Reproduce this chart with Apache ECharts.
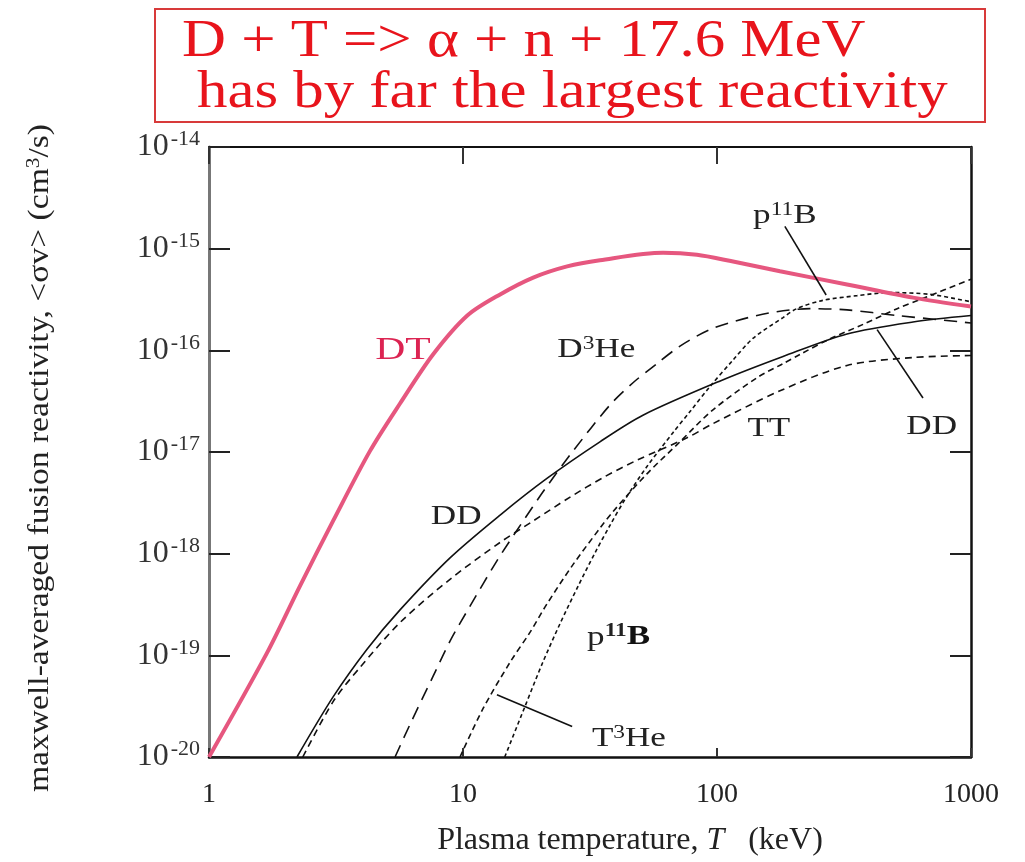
<!DOCTYPE html>
<html>
<head>
<meta charset="utf-8">
<title>Fusion reactivity</title>
<script src="https://cdn.jsdelivr.net/npm/echarts@6/dist/echarts.min.js"></script>
<style>
  html, body { margin: 0; padding: 0; background: #fff; }
  #chart { width: 1025px; height: 862px; }
</style>
</head>
<body>
<div id="chart"></div>
<script>
// plasma temperature (keV) and <sigma v> (cm^3/s)
const dtT = [1, 1.69, 2.28, 3.08, 4.3, 5.65, 7.62, 10.4, 14, 18.9, 25.7, 34.6, 61.3, 83.4, 112, 177, 325, 591, 1000];
const dtV = [1.0e-20, 1.05e-19, 4.8e-19, 2.1e-18, 1.02e-17, 3.0e-17, 9.1e-17, 2.2e-16, 3.55e-16, 5.2e-16, 6.7e-16, 7.7e-16, 9.1e-16, 8.7e-16, 7.6e-16, 6.0e-16, 4.45e-16, 3.3e-16, 2.7e-16];

const ddT = [2.22, 3.08, 4.19, 5.65, 8.89, 14, 21.4, 34.6, 51.1, 103, 182, 325, 591, 1000];
const ddV = [1.0e-20, 3.9e-20, 1.15e-19, 2.8e-19, 9.1e-19, 2.4e-18, 5.5e-18, 1.26e-17, 2.3e-17, 5.0e-17, 8.7e-17, 1.45e-16, 1.9e-16, 2.2e-16];

const ttT = [2.34, 3.08, 3.93, 5.65, 8.89, 14, 18.9, 26.4, 35.6, 48.4, 76.2, 96.4, 177, 325, 591, 1000];
const ttV = [1.0e-20, 3.5e-20, 7.6e-20, 2.1e-19, 5.6e-19, 1.29e-18, 2.1e-18, 3.6e-18, 5.6e-18, 8.3e-18, 1.38e-17, 1.9e-17, 4.0e-17, 7.1e-17, 8.5e-17, 8.9e-17];

const dhe3T = [5.4, 6.19, 7.62, 8.89, 10.7, 13.6, 16.8, 21, 27.1, 37.9, 46.7, 58, 71.5, 93.8, 127, 172, 232, 325, 512, 1000];
const dhe3V = [1.0e-20, 2.1e-20, 6.2e-20, 1.38e-19, 3.1e-19, 8.5e-19, 1.9e-18, 4.3e-18, 1.02e-17, 2.9e-17, 4.8e-17, 7.4e-17, 1.1e-16, 1.6e-16, 2.04e-16, 2.4e-16, 2.57e-16, 2.5e-16, 2.2e-16, 1.86e-16];

const the3T = [9.73, 12, 15.3, 18.4, 21.4, 27.1, 34.6, 39, 53, 71.5, 96.4, 144, 182, 212, 279, 376, 512, 647, 1000];
const the3V = [1.0e-20, 3.0e-20, 8.5e-20, 1.7e-19, 3.2e-19, 7.8e-19, 1.78e-18, 2.6e-18, 6.1e-18, 1.26e-17, 2.6e-17, 5.4e-17, 7.4e-17, 9.1e-17, 1.3e-16, 1.8e-16, 2.57e-16, 3.25e-16, 5.0e-16];

const pbT = [14.6, 17.5, 20.6, 24.1, 28.4, 33.1, 37.9, 43.4, 53, 67.1, 78.3, 93.8, 116, 139, 182, 206, 261, 356, 480, 690, 1000];
const pbV = [1.0e-20, 3.1e-20, 8.5e-20, 2.05e-19, 4.8e-19, 1.02e-18, 1.9e-18, 3.4e-18, 7.2e-18, 1.55e-17, 2.5e-17, 4.4e-17, 8.1e-17, 1.32e-16, 2.1e-16, 2.57e-16, 3.1e-16, 3.45e-16, 3.7e-16, 3.55e-16, 3.0e-16];

// curve labels (position in data units)
const labelText = ['DT', 'D3He', 'TT', 'DDr', 'DDl', 'pBtop', 'pBbot', 'T3He'];
const labelT = [5.8, 33.5, 160, 700, 9.4, 185, 41, 45];
const labelV = [1.0e-16, 1.0e-16, 1.7e-17, 1.75e-17, 2.3e-18, 2.1e-15, 1.5e-19, 1.5e-20];

const xTicks = [1, 10, 100, 1000];

const serif = '"Liberation Serif", "Times New Roman", serif';
const pink = '#e6577f';
const red = '#e8141c';
const ink = '#222';

const pairs = (t, v) => t.map((x, i) => [x, v[i]]);

const sup = (size, bold) => ({
  fontFamily: serif, fontSize: size, fill: ink, fontWeight: bold ? 'bold' : 'normal',
  verticalAlign: 'bottom', padding: [0, 0, 12, 0]
});

const richLabel = {
  b: { fontFamily: serif, fontSize: 27, fill: ink },
  s: sup(18, false),
  bb: { fontFamily: serif, fontSize: 27, fill: '#111', fontWeight: 'bold' },
  sb: sup(18, true),
  dt: { fontFamily: serif, fontSize: 32, fill: '#dc2452' }
};

const labelFormat = {
  DT: '{dt|DT}',
  D3He: '{b|D}{s|3}{b|He}',
  TT: '{b|TT}',
  DDr: '{b|DD}',
  DDl: '{b|DD}',
  pBtop: '{b|p}{s|11}{b|B}',
  pBbot: '{b|p}{sb|11}{bb|B}',
  T3He: '{b|T}{s|3}{b|He}'
};

const chart = echarts.init(document.getElementById('chart'));

const thin = (type) => ({ color: '#111', width: 1.6, type: type });

const curve = (name, t, v, lineStyle) => ({
  name: name, type: 'line', data: pairs(t, v), smooth: 0.3,
  showSymbol: false, lineStyle: lineStyle
});

const option = {
  backgroundColor: '#fff',
  animation: false,
  grid: { left: 209, right: 54, top: 147, bottom: 94 },
  xAxis: [
    {
      type: 'log', logBase: 10, min: 1, max: 1000,
      name: '{n|Plasma temperature, }{i|T}{n|   (keV)}',
      nameLocation: 'middle', nameGap: 68,
      nameTextStyle: {
        padding: [0, 0, 0, 80],
        rich: {
          n: { fontFamily: serif, fontSize: 32, color: ink },
          i: { fontFamily: serif, fontSize: 32, color: ink, fontStyle: 'italic' }
        }
      },
      axisLine: { lineStyle: { color: '#111', width: 2.5 } },
      axisTick: { inside: true, length: 9, lineStyle: { color: '#333', width: 2 } },
      splitLine: { show: false },
      axisLabel: {
        margin: 24, fontFamily: serif, fontSize: 28, color: ink,
        formatter: (v) => xTicks.includes(v) ? String(v) : ''
      }
    },
    {
      type: 'log', logBase: 10, min: 1, max: 1000, position: 'top',
      axisLine: { lineStyle: { color: '#111', width: 2 } },
      axisTick: { inside: true, length: 17, lineStyle: { color: '#333', width: 2 } },
      axisLabel: { show: false },
      splitLine: { show: false }
    }
  ],
  yAxis: [
    {
      type: 'log', logBase: 10, min: 1e-20, max: 1e-14,
      axisLine: { lineStyle: { color: '#777', width: 3 } },
      axisTick: { inside: true, length: 21, lineStyle: { color: ink, width: 2 } },
      splitLine: { show: false },
      axisLabel: {
        margin: 9,
        formatter: (v) => '{b|10}{s|' + Math.round(Math.log10(v)) + '}',
        rich: {
          b: { fontFamily: serif, fontSize: 32, color: '#333' },
          s: { fontFamily: serif, fontSize: 22, color: '#333', verticalAlign: 'bottom', padding: [0, 0, 15, 2] }
        }
      }
    },
    {
      type: 'log', logBase: 10, min: 1e-20, max: 1e-14, position: 'right',
      axisLine: { lineStyle: { color: '#111', width: 2.5 } },
      axisTick: { inside: true, length: 21, lineStyle: { color: ink, width: 2 } },
      axisLabel: { show: false },
      splitLine: { show: false }
    }
  ],
  series: [
    curve('DD', ddT, ddV, thin('solid')),
    curve('TT', ttT, ttV, thin([7, 5])),
    curve('D3He', dhe3T, dhe3V, thin([13, 8])),
    curve('T3He', the3T, the3V, thin([6, 4])),
    curve('p11B', pbT, pbV, thin([4, 3])),
    curve('DT', dtT, dtV, { color: pink, width: 4 }),
    {
      // leader lines from the curve labels
      name: 'leaders', type: 'line', data: [], silent: true,
      markLine: {
        silent: true, symbol: 'none',
        label: { show: false },
        lineStyle: { color: '#111', width: 1.6, type: 'solid' },
        data: [
          [{ coord: [185, 1.66e-15] }, { coord: [269, 3.5e-16] }],
          [{ coord: [427, 1.6e-16] }, { coord: [647, 3.4e-17] }],
          [{ coord: [13.6, 4.1e-20] }, { coord: [26.9, 2.0e-20] }]
        ]
      }
    }
  ]
};

chart.setOption(option);

// title box, rotated y name and curve labels (stretched like the source figure)
const labels = labelText.map((k, i) => {
  const p = chart.convertToPixel({ xAxisIndex: 0, yAxisIndex: 0 }, [labelT[i], labelV[i]]);
  return {
    type: 'text', x: p[0], y: p[1], scaleX: 1.3, silent: true,
    style: { text: labelFormat[k], rich: richLabel, align: 'center', verticalAlign: 'middle' }
  };
});

chart.setOption({
  graphic: [
    {
      type: 'rect',
      shape: { x: 155, y: 9, width: 830, height: 113 },
      style: { fill: 'none', stroke: '#d83a3a', lineWidth: 2 }
    },
    {
      type: 'text', x: 182, y: 42, scaleX: 1.17,
      style: { text: 'D + T => \u03b1 + n + 17.6 MeV', font: '52px ' + serif, fill: red, verticalAlign: 'middle' }
    },
    {
      type: 'text', x: 197, y: 93, scaleX: 1.17,
      style: { text: 'has by far the largest reactivity', font: '52px ' + serif, fill: red, verticalAlign: 'middle' }
    },
    {
      type: 'text', x: 40, y: 458, rotation: Math.PI / 2, scaleX: 1.12,
      style: {
        text: 'maxwell-averaged fusion reactivity, <\u03c3v> (cm{u|3}/s)',
        font: '30px ' + serif, fill: ink, align: 'center', verticalAlign: 'middle',
        rich: { u: { fontFamily: serif, fontSize: 19, fill: ink, verticalAlign: 'bottom', padding: [0, 0, 12, 0] } }
      }
    }
  ].concat(labels)
});
</script>
</body>
</html>
